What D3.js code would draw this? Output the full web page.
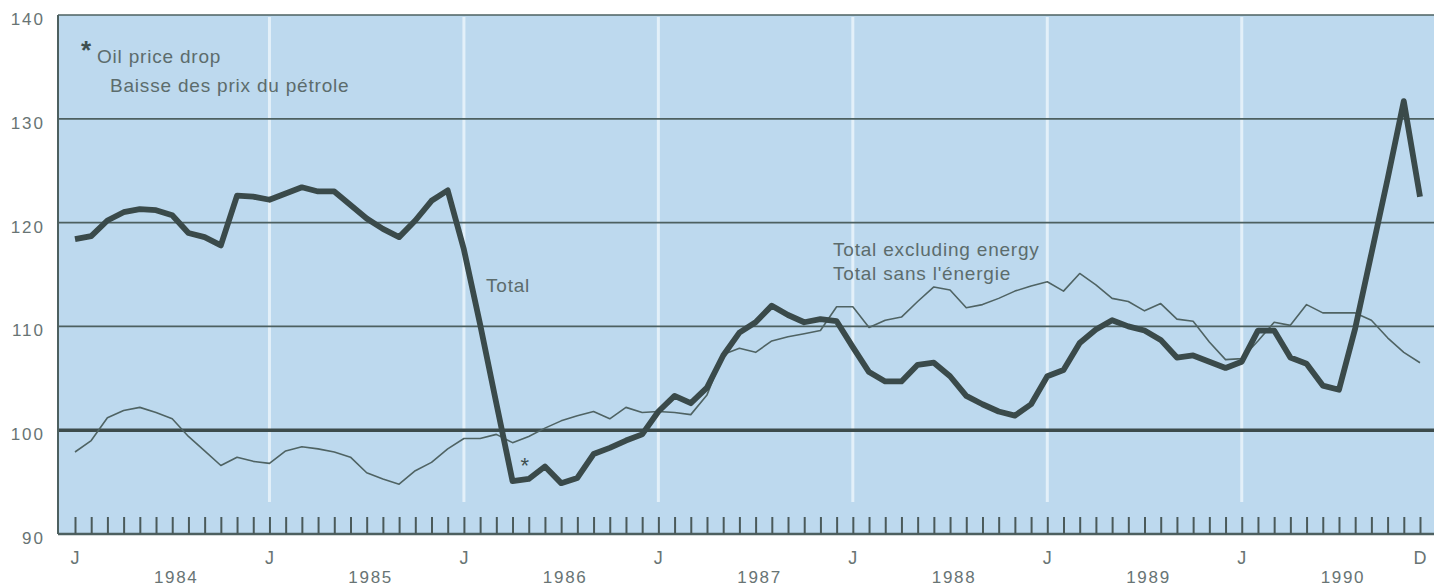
<!DOCTYPE html>
<html>
<head>
<meta charset="utf-8">
<style>
    body {
        margin: 0;
        background: #ffffff;
    }

    svg {
        display: block;
        font-family: "Liberation Sans", Arial, sans-serif;
    }

    .lbl {
        fill: #687474;
    }

    .note {
        fill: #5c6c6c;
        font-size: 19px;
        letter-spacing: 0.8px;
    }
</style>
</head>
<body>
<svg width="1434" height="588"></svg>

<script src="https://d3js.org/d3.v7.min.js"></script>
<script>
    // monthly index, Jan 1984 .. Dec 1990
    const total = [
        118.4, 118.7, 120.2, 121.0, 121.3, 121.2, 120.7, 119.0, 118.6, 117.8, 122.6, 122.5,
        122.2, 122.8, 123.4, 123.0, 123.0, 121.7, 120.4, 119.4, 118.6, 120.2, 122.1, 123.1,
        117.4, 110.2, 102.6, 95.1, 95.3, 96.5, 94.9, 95.4, 97.7, 98.3, 99.0, 99.6,
        101.8, 103.3, 102.6, 104.1, 107.2, 109.4, 110.4, 112.0, 111.1, 110.4, 110.7, 110.5,
        108.0, 105.6, 104.7, 104.7, 106.3, 106.5, 105.2, 103.3, 102.5, 101.8, 101.4, 102.5,
        105.2, 105.8, 108.4, 109.7, 110.6, 110.0, 109.6, 108.7, 107.0, 107.2, 106.6, 106.0,
        106.6, 109.6, 109.6, 107.0, 106.4, 104.3, 103.9, 109.8, 117.0, 124.2, 131.7, 122.5
    ];

    const exEnergy = [
        97.9, 99.0, 101.2, 101.9, 102.2, 101.7, 101.1, 99.4, 98.0, 96.6, 97.4, 97.0,
        96.8, 98.0, 98.4, 98.2, 97.9, 97.4, 95.9, 95.3, 94.8, 96.1, 96.9, 98.2,
        99.2, 99.2, 99.6, 98.8, 99.4, 100.2, 100.9, 101.4, 101.8, 101.1, 102.2, 101.7,
        101.8, 101.7, 101.5, 103.4, 107.3, 107.9, 107.5, 108.6, 109.0, 109.3, 109.6, 111.9,
        111.9, 109.9, 110.6, 110.9, 112.4, 113.8, 113.5, 111.8, 112.1, 112.7, 113.4, 113.9,
        114.3, 113.4, 115.1, 114.0, 112.7, 112.4, 111.5, 112.2, 110.7, 110.5, 108.5, 106.8,
        106.9, 108.6, 110.4, 110.1, 112.1, 111.3, 111.3, 111.3, 110.6, 108.9, 107.5, 106.5
    ];

    const yTicks = [90, 100, 110, 120, 130, 140];
    const years = ["1984", "1985", "1986", "1987", "1988", "1989", "1990"];
    const markIdx = [0, 12, 24, 36, 48, 60, 72, 83];
    const markText = ["J", "J", "J", "J", "J", "J", "J", "D"];
    const starMonth = 28;   // May 1986

    let svg = d3.select("svg");
    let plotLeft = 58, plotRight = 1434, plotTop = 15, plotBottom = 534;

    let x = d3.scaleLinear().domain([0, 83]).range([75, 1420]);
    let y = d3.scaleLinear().domain([90, 140]).range([plotBottom, plotTop]);

    // plot background
    svg.append("rect")
        .attr("x", plotLeft).attr("y", plotTop)
        .attr("width", plotRight - plotLeft).attr("height", plotBottom - plotTop)
        .attr("fill", "#bdd9ee");

    // white verticals at each January
    svg.append("g")
        .selectAll("line")
        .data(markIdx.slice(1, 7))
        .join("line")
        .attr("x1", d => x(d)).attr("x2", d => x(d))
        .attr("y1", plotTop + 2).attr("y2", 502)
        .attr("stroke", "#e3f0f9")
        .attr("stroke-width", 3);

    // horizontal grid
    svg.append("g")
        .selectAll("line")
        .data(yTicks)
        .join("line")
        .attr("x1", plotLeft).attr("x2", plotRight)
        .attr("y1", d => y(d)).attr("y2", d => y(d))
        .attr("stroke", d => d == 100 ? "#3c4b4b" : "#4d6060")
        .attr("stroke-width", d => d == 100 ? 3.5 : (d == 90 ? 2.5 : 1.7));

    // left edge
    svg.append("line")
        .attr("x1", plotLeft).attr("x2", plotLeft)
        .attr("y1", plotTop).attr("y2", plotBottom)
        .attr("stroke", "#4d6060")
        .attr("stroke-width", 2);

    // monthly ticks
    let xAxis = svg.append("g")
        .attr("transform", `translate(0,${plotBottom})`)
        .call(d3.axisBottom(x).tickValues(d3.range(84)).tickSize(-17).tickFormat(""));
    xAxis.select(".domain").remove();
    xAxis.selectAll(".tick line")
        .attr("stroke", "#4a5a5a")
        .attr("stroke-width", 2);

    // y labels
    svg.append("g")
        .selectAll("text")
        .data(yTicks)
        .join("text")
        .attr("class", "lbl")
        .attr("x", 45)
        .attr("y", d => y(d) + 10)
        .attr("text-anchor", "end")
        .attr("font-size", 17)
        .attr("letter-spacing", 2)
        .text(d => d);

    // month letters
    svg.append("g")
        .selectAll("text")
        .data(markIdx)
        .join("text")
        .attr("class", "lbl")
        .attr("x", d => x(d))
        .attr("y", 564)
        .attr("text-anchor", "middle")
        .attr("font-size", 18)
        .text((d, i) => markText[i]);

    // years
    svg.append("g")
        .selectAll("text")
        .data(years)
        .join("text")
        .attr("class", "lbl")
        .attr("x", (d, i) => x(i * 12 + 6) + 4)
        .attr("y", 583)
        .attr("text-anchor", "middle")
        .attr("font-size", 17)
        .attr("letter-spacing", 1.7)
        .text(d => d);

    let line = d3.line()
        .x((d, i) => x(i))
        .y(d => y(d));

    svg.append("path")
        .datum(exEnergy)
        .attr("d", line)
        .attr("fill", "none")
        .attr("stroke", "#4f6363")
        .attr("stroke-width", 1.6)
        .attr("stroke-linejoin", "round");

    svg.append("path")
        .datum(total)
        .attr("d", line)
        .attr("fill", "none")
        .attr("stroke", "#3a4a4a")
        .attr("stroke-width", 5.8)
        .attr("stroke-linejoin", "round")
        .attr("stroke-linecap", "butt");

    // notes
    svg.append("text")
        .attr("x", 81).attr("y", 59)
        .attr("font-size", 26)
        .attr("font-weight", "bold")
        .attr("fill", "#3f4f4f")
        .text("*");
    svg.append("text").attr("class", "note").attr("x", 97).attr("y", 63).text("Oil price drop");
    svg.append("text").attr("class", "note").attr("x", 110).attr("y", 92).text("Baisse des prix du pétrole");

    svg.append("text").attr("class", "note").attr("x", 486).attr("y", 292).text("Total");
    svg.append("text").attr("class", "note").attr("x", 833).attr("y", 256).text("Total excluding energy");
    svg.append("text").attr("class", "note").attr("x", 833).attr("y", 280).text("Total sans l'énergie");

    svg.append("text")
        .attr("x", x(starMonth) - 4)
        .attr("y", y(total[starMonth]) - 6)
        .attr("text-anchor", "middle")
        .attr("font-size", 22)
        .attr("fill", "#3f4f4f")
        .text("*");
</script>
</body>
</html>
